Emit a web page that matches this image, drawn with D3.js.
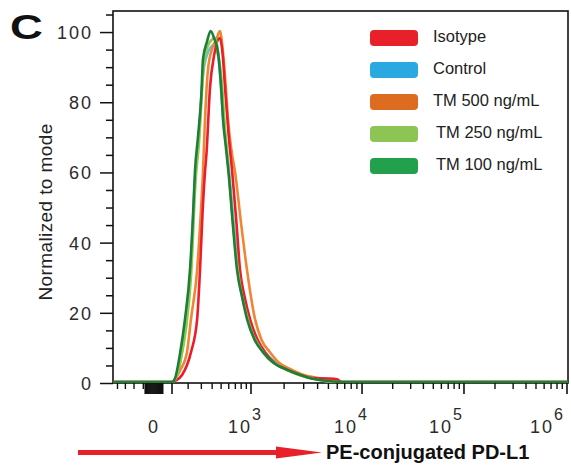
<!DOCTYPE html>
<html><head><meta charset="utf-8">
<script src="https://cdn.jsdelivr.net/npm/d3@7"></script>
<style>body{margin:0;background:#fff}svg{display:block}text{font-family:"Liberation Sans",Arial,sans-serif}</style>
</head><body><svg id="c" width="571" height="465"></svg>
<script>
// ---------- data ----------
const seriesNames = ["Isotype", "Control", "TM 500 ng/mL", "TM 250 ng/mL", "TM 100 ng/mL"];
const swatchColors = ["#e8202a", "#2aa9e0", "#dd6b20", "#8cc553", "#22a04b"];
const lineColors = ["#ec1c2b", "#5cc3dc", "#f08533", "#8ccb4e", "#1f7d3a"];
// [fluorescence intensity, % of mode]
const isotype = [[100,0],[125,0.5],[160,2],[220,8.5],[266,18],[289,32],[310,48],[332,60],[345,65],[379,84],[420,93],[486,98],[520,93],[549,84],[600,70],[650,60],[720,45],[779,32],[870,24],[977,18],[1150,12],[1340,8.5],[1700,5],[2124,3.5],[2800,2],[3600,1.1],[5000,1],[6000,0.8],[6500,0]];
const control = [[100,0],[120,0.8],[150,6],[182,16],[216,31],[250,58],[275,68],[316,88],[360,94],[420,96],[470,92],[520,77],[600,61],[670,46],[745,33],[935,19],[1310,9],[2200,3.8],[3700,1],[6000,0]];
const tm500 = [[100,0],[120,1],[150,3.5],[192,8.5],[220,18],[266,32],[290,45],[314,60],[332,75],[359,89],[400,95],[450,98],[486,100],[523,94],[560,84],[589,75],[640,66],[694,60],[800,45],[913,32],[1087,18],[1250,12],[1490,8.5],[1800,5.5],[2259,3.7],[3000,2],[3637,1.4],[4500,0.8],[5800,0.4],[7000,0]];
const tm250 = [[100,0],[120,0.8],[150,6],[185,15],[220,30],[255,58],[280,68],[320,90],[360,96],[430,98],[470,93],[510,85],[540,75],[600,60],[660,46],[740,32],[930,18],[1290,8.5],[2100,3.5],[3600,0.9],[6000,0]];
const tm100 = [[100,0],[117,1],[147,8],[179,18],[213,32],[235,48],[249,60],[273,70],[300,82],[314,92],[350,97],[385,100],[420,98],[463,94],[500,84],[523,75],[560,67],[600,59],[660,45],[727,32],[820,24],[913,18],[1080,12],[1287,8.5],[1600,5.5],[2124,3.5],[2800,2],[3637,0.9],[5000,0.3],[7000,0]];
const seriesData = [isotype, control, tm500, tm250, tm100];
const drawOrder = [1, 2, 0, 3, 4];

const yTickValues = [0, 20, 40, 60, 80, 100];
const xTickValues = [0, 1e3, 1e4, 1e5, 1e6];
const xTickBase = ["0", "10", "10", "10", "10"];
const xTickExp = ["", "3", "4", "5", "6"];

// ---------- layout ----------
const svg = d3.select("#c");
const L = 113, R = 568, T = 11, B = 383;
const tf = v => Math.asinh(v / 240);
const xAnchors = [-231, 0, 100, 1e3, 1e4, 1e5, 1e6, 1.0226e6];
const xAnchorFrac = [0, 0.0879, 0.1297, 0.3033, 0.5473, 0.7714, 0.9978, 1];
const x = d3.scaleLinear().domain(xAnchors.map(tf)).range(xAnchorFrac.map(f => L + f * (R - L)));
const xs = v => x(tf(v));
const y = d3.scaleLinear().domain([0, 106]).range([B, T]);
// horizontal shift of each x tick label's centre relative to its tick (label placement only)
const xLabelShift = [0, -5.5, -10.5, -17.5, -19.5];

// clip
svg.append("defs").append("clipPath").attr("id", "clip")
  .append("rect").attr("x", L + 0.8).attr("y", T - 5).attr("width", R - L - 1.6).attr("height", B - T + 5);

// frame
svg.append("rect").attr("x", L).attr("y", T).attr("width", R - L).attr("height", B - T)
  .attr("fill", "none").attr("stroke", "#111").attr("stroke-width", 1.6);

// curves (drawn over the frame's bottom edge, as in the original export)
const line = d3.line().x(d => xs(d[0])).y(d => y(d[1]) - 1).curve(d3.curveMonotoneX);
const g = svg.append("g").attr("clip-path", "url(#clip)");
drawOrder.forEach(i => {
  const pts = [[xAnchors[0], 0]].concat(seriesData[i], [[xAnchors[xAnchors.length - 1], 0]]);
  g.append("path").attr("d", line(pts)).attr("fill", "none")
    .attr("stroke", lineColors[i]).attr("stroke-width", 2.6).attr("stroke-linejoin", "round");
});

// y axis
const yAx = svg.append("g").attr("transform", `translate(${L},0)`)
  .call(d3.axisLeft(y).tickValues(yTickValues).tickSize(13).tickPadding(9).tickFormat(d3.format("d")));
yAx.select(".domain").remove();
yAx.selectAll("line").attr("stroke", "#111").attr("stroke-width", 1.5);
yAx.selectAll("text").attr("font-size", 18).attr("fill", "#2b2b2b").attr("letter-spacing", "2px")
  .attr("font-family", "Liberation Sans, Arial, sans-serif").attr("dx", "2px").attr("dy", "0.36em");
const yMinor = svg.append("g").attr("transform", `translate(${L},0)`)
  .call(d3.axisLeft(y).tickValues(d3.range(5, 106, 5).filter(v => v % 20 !== 0)).tickSize(7).tickFormat(""));
yMinor.select(".domain").remove();
yMinor.selectAll("line").attr("stroke", "#111").attr("stroke-width", 1.5);

// x axis ticks
const majorX = [100, 1e3, 1e4, 1e5, 1e6];
let minorX = [-200, -150, -100, -50];
[100, 1e3, 1e4, 1e5].forEach(d => { for (let k = 2; k <= 9; k++) minorX.push(d * k); });
const zeroCluster = d3.range(-40, 51, 5);
const xt = svg.append("g");
xt.selectAll("line.mj").data(majorX.concat(zeroCluster)).join("line")
  .attr("x1", d => xs(d)).attr("x2", d => xs(d)).attr("y1", B).attr("y2", B + 11)
  .attr("stroke", "#111").attr("stroke-width", 1.6);
xt.selectAll("line.mn").data(minorX).join("line")
  .attr("x1", d => xs(d)).attr("x2", d => xs(d)).attr("y1", B).attr("y2", B + 6)
  .attr("stroke", "#111").attr("stroke-width", 1.4);
// x tick labels
xTickValues.forEach((v, i) => {
  const c = xs(v) + xLabelShift[i];
  if (xTickExp[i] === "") {
    svg.append("text").attr("x", c).attr("y", 433).attr("text-anchor", "middle")
      .attr("font-size", 18).attr("fill", "#2b2b2b").text(xTickBase[i]);
  } else {
    svg.append("text").attr("x", c + 6.5).attr("y", 433).attr("text-anchor", "end")
      .attr("font-size", 18).attr("letter-spacing", "2px").attr("fill", "#2b2b2b").text(xTickBase[i]);
    svg.append("text").attr("x", c + 6.5).attr("y", 420).attr("text-anchor", "start")
      .attr("font-size", 16).attr("fill", "#2b2b2b").text(xTickExp[i]);
  }
});

// y label
svg.append("text").attr("transform", "translate(52,212) rotate(-90)").attr("text-anchor", "middle")
  .attr("font-size", 19).attr("letter-spacing", "0.4px").attr("fill", "#222").text("Normalized to mode");

// x label with arrow
svg.append("line").attr("x1", 78).attr("x2", 285).attr("y1", 452.5).attr("y2", 452.5)
  .attr("stroke", "#e8202a").attr("stroke-width", 5);
svg.append("path").attr("d", "M276,446.5 L322,452.5 L276,458.5 Z").attr("fill", "#e8202a");
svg.append("text").attr("x", 326).attr("y", 459).attr("font-size", 20).attr("font-weight", "bold")
  .attr("fill", "#111").text("PE-conjugated PD-L1");

// panel letter
svg.append("text").attr("transform", "translate(10,39) scale(1.3,1)").attr("font-size", 35)
  .attr("font-weight", "900").attr("fill", "#111").text("C");

// legend
const lg = svg.append("g");
seriesNames.forEach((n, i) => {
  const by = 42 + i * 32;
  lg.append("rect").attr("x", 370).attr("y", by - 12).attr("width", 48).attr("height", 16)
    .attr("rx", 4).attr("fill", swatchColors[i]);
  lg.append("text").attr("x", i >= 3 ? 436 : 433).attr("y", by).attr("font-size", 16.5)
    .attr("fill", "#222").text(n);
});
</script></body></html>
